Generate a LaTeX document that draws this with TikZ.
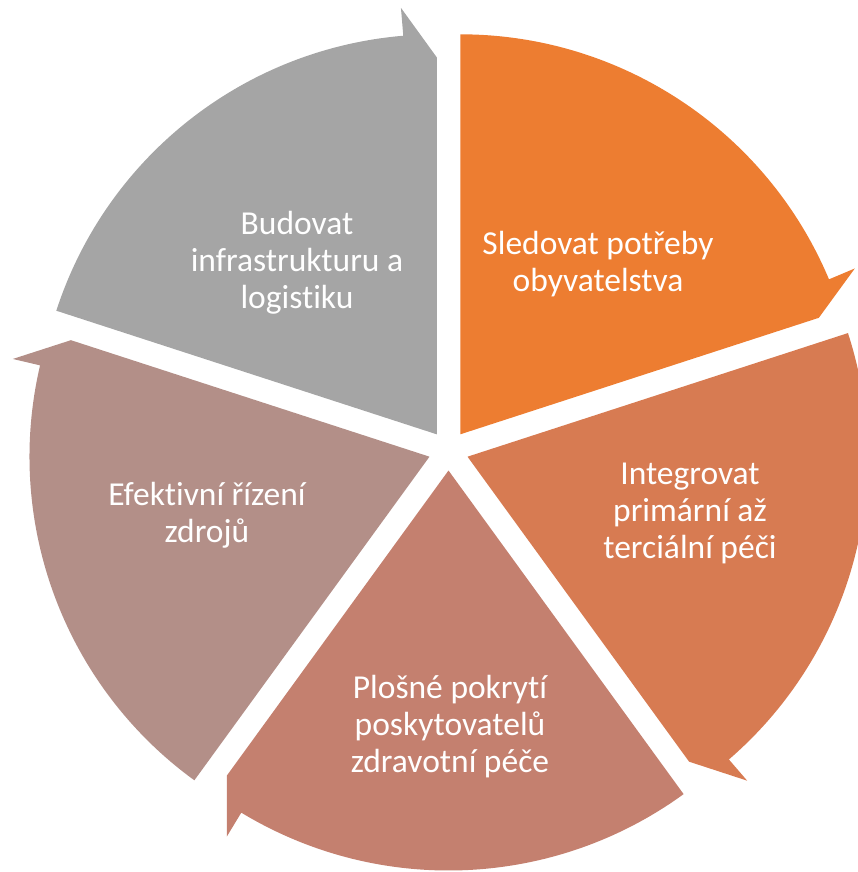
\documentclass[tikz,border=0pt]{standalone}
\usepackage{fontspec}
\setmainfont{Carlito}[RawFeature=-liga]
\usetikzlibrary{calc}
\definecolor{segA}{HTML}{ED7D31}
\definecolor{segB}{HTML}{D77B52}
\definecolor{segC}{HTML}{C4806F}
\definecolor{segD}{HTML}{B38F88}
\definecolor{segE}{HTML}{A5A5A5}
\tikzset{
  seglabel/.style={text=white, align=center, inner sep=0pt, font=\fontsize{33.5}{37}\selectfont}
}
% #1 colour, #2 start angle, #3 end angle
\newcommand{\cycseg}[3]{%
  \fill[#1, shift={($(448.5,-450.5)+({(#2+#3)/2}:20)$)}]
    (0,0) -- (#2:400) arc[start angle=#2, end angle={#3+4.8}, radius=400]
    -- ({#3+4.8}:428) -- (#3:377) -- cycle;}
\begin{document}
\begin{tikzpicture}[x=1pt,y=1pt]
\useasboundingbox (0,0) rectangle (858,-872);
\cycseg{segA}{90}{18}
\cycseg{segB}{18}{-54}
\cycseg{segC}{-54}{-126}
\cycseg{segD}{234}{162}
\cycseg{segE}{162}{90}
\node[seglabel] (n1) at (598,-264) {Sledovat potřeby\\obyvatelstva};
\node[seglabel] (n2) at (690,-513) {Integrovat\\primární až\\terciální péči};
\node[seglabel] (n3) at (450,-727) {Plošné pokrytí\\poskytovatelů\\zdravotní péče};
\node[seglabel] (n4) at (207,-515) {Efektivní řízení\\zdrojů};
\node[seglabel] (n5) at (297,-263) {Budovat\\infrastrukturu a\\logistiku};
\end{tikzpicture}
\end{document}
